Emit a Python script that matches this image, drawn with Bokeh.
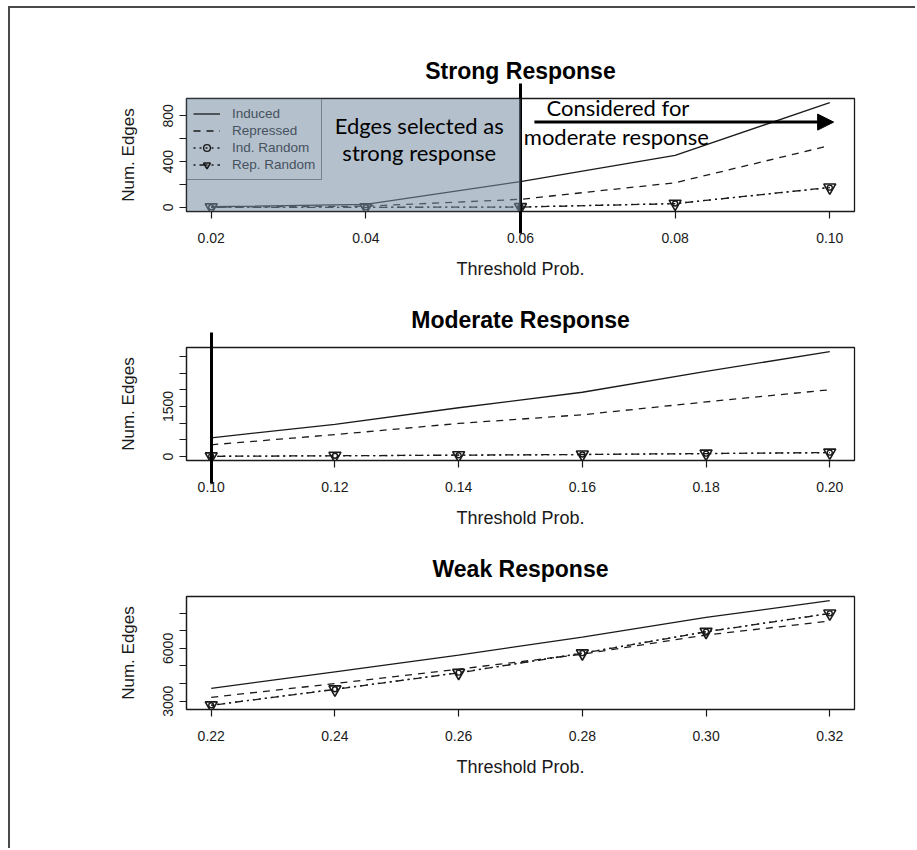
from bokeh.plotting import figure
from bokeh.models import (Range1d, FixedTicker, PrintfTickFormatter, Legend, LegendItem,
                          BoxAnnotation, Arrow, NormalHead, Label, Spacer, LinearAxis)
from bokeh.layouts import column
from bokeh.embed import file_html
from bokeh.resources import INLINE

# ---------------- data ----------------
x_strong = [0.02, 0.04, 0.06, 0.08, 0.10]
induced_strong = [5, 25, 225, 455, 915]
repressed_strong = [2, 10, 70, 215, 540]
ind_random_strong = [0, 0, 3, 33, 172]
rep_random_strong = [0, 0, 2, 32, 174]

x_moderate = [0.10, 0.12, 0.14, 0.16, 0.18, 0.20]
induced_moderate = [560, 960, 1460, 1925, 2550, 3140]
repressed_moderate = [350, 655, 990, 1250, 1635, 2000]
ind_random_moderate = [5, 20, 38, 58, 85, 115]
rep_random_moderate = [5, 22, 40, 60, 88, 118]

x_weak = [0.22, 0.24, 0.26, 0.28, 0.30, 0.32]
induced_weak = [3730, 4670, 5620, 6640, 7760, 8710]
repressed_weak = [3220, 4000, 4820, 5670, 6760, 7550]
ind_random_weak = [2770, 3680, 4620, 5730, 6950, 7990]
rep_random_weak = [2765, 3670, 4610, 5720, 6940, 7980]

yticks_strong = [0, 200, 400, 600, 800]
ylabels_strong = [0, 400, 800]
yticks_moderate = [0, 500, 1000, 1500, 2000, 2500, 3000]
ylabels_moderate = [0, 1500]
yticks_weak = [3000, 4000, 5000, 6000, 7000, 8000]
ylabels_weak = [3000, 6000]

series_names = ["Induced", "Repressed", "Ind. Random", "Rep. Random"]

# thresholds marked with a vertical bar
strong_cut = [0.06]
moderate_cut = [0.10]
weak_cut = []

INK = "#1a1a1a"
FONT = "Liberation Sans"


def make_panel(title, x, ind, rep, indr, repr_, yticks, ylabels, cut,
               cut_in, legend=False):
    xs = max(x) - min(x)
    allv = ind + rep + indr + repr_
    ys = max(allv) - min(allv)
    p = figure(width=890, height=249, output_backend="svg", toolbar_location=None,
               min_border_left=176, min_border_right=46, min_border_top=66,
               min_border_bottom=66,
               x_range=Range1d(min(x) - 0.04 * xs, max(x) + 0.04 * xs),
               y_range=Range1d(min(allv) - 0.04 * ys, max(allv) + 0.04 * ys))
    p.grid.visible = False
    p.outline_line_color = INK
    p.outline_line_width = 1.3
    p.background_fill_color = "white"
    p.border_fill_color = None

    for ax in (p.xaxis[0], p.yaxis[0]):
        ax.axis_line_color = INK
        ax.axis_line_width = 1.2
        ax.major_tick_line_color = INK
        ax.major_tick_line_width = 1.2
        ax.major_tick_out = 7
        ax.major_tick_in = 0
        ax.minor_tick_line_color = None
        ax.major_label_text_font = FONT
        ax.major_label_text_font_size = "14px"
        ax.major_label_text_color = INK
        ax.axis_label_text_font = FONT
        ax.axis_label_text_font_style = "normal"
        ax.axis_label_text_color = INK

    p.xaxis.ticker = FixedTicker(ticks=x)
    p.xaxis.formatter = PrintfTickFormatter(format="%.2f")
    p.xaxis.axis_label = "Threshold Prob."
    p.xaxis.axis_label_text_font_size = "18px"
    p.xaxis.major_label_standoff = 14
    p.xaxis.axis_label_standoff = 13

    p.yaxis.ticker = FixedTicker(ticks=yticks)
    p.yaxis.major_label_overrides = {t: (str(t) if t in ylabels else "") for t in yticks}
    p.yaxis.major_label_orientation = "vertical"
    p.yaxis.axis_label = "Num. Edges"
    p.yaxis.axis_label_text_font_size = "17px"
    p.yaxis.major_label_standoff = 6
    p.yaxis.axis_label_standoff = 23

    # top axis: carries the panel title and the thick threshold bar
    top = LinearAxis(ticker=FixedTicker(ticks=cut), axis_label=title,
                     major_tick_out=15, major_tick_in=cut_in,
                     major_tick_line_width=3, major_tick_line_color="black",
                     axis_line_color=None, minor_tick_line_color=None,
                     major_label_text_font_size="0px", major_label_standoff=0,
                     major_label_overrides={c: "" for c in cut},
                     axis_label_standoff=0 if cut else 15, axis_label_text_font=FONT,
                     axis_label_text_font_size="23px", axis_label_text_font_style="bold",
                     axis_label_text_color="black", level="overlay")
    p.add_layout(top, "above")

    r1 = p.line(x, ind, line_color=INK, line_width=1.3)
    r2 = p.line(x, rep, line_color=INK, line_width=1.3, line_dash="7 6")
    r3 = p.line(x, indr, line_color=INK, line_width=1.3, line_dash="2 4")
    r3m = p.scatter(x, indr, marker="circle", size=5, fill_color=None,
                    line_color=INK, line_width=1.4)
    r4 = p.line(x, repr_, line_color=INK, line_width=1.3, line_dash="2 4 8 4")
    r4m = p.scatter(x, repr_, marker="inverted_triangle", size=12, fill_color=None,
                    line_color=INK, line_width=1.6)

    if legend:
        items = [LegendItem(label=series_names[0], renderers=[r1]),
                 LegendItem(label=series_names[1], renderers=[r2]),
                 LegendItem(label=series_names[2], renderers=[r3, r3m]),
                 LegendItem(label=series_names[3], renderers=[r4, r4m])]
        lg = Legend(items=items, location="top_left", margin=0, padding=6, spacing=0,
                    glyph_height=17, label_height=17, glyph_width=27, label_standoff=12,
                    border_line_color="#3a4450", border_line_width=1.2,
                    background_fill_alpha=0.0,
                    label_text_font=FONT, label_text_font_size="13.5px",
                    label_text_color="#46525e")
        p.add_layout(lg)
    return p


p1 = make_panel("Strong Response", x_strong, induced_strong, repressed_strong,
                ind_random_strong, rep_random_strong, yticks_strong, ylabels_strong,
                strong_cut, 135, legend=True)
p2 = make_panel("Moderate Response", x_moderate, induced_moderate, repressed_moderate,
                ind_random_moderate, rep_random_moderate, yticks_moderate, ylabels_moderate,
                moderate_cut, 136)
p3 = make_panel("Weak Response", x_weak, induced_weak, repressed_weak,
                ind_random_weak, rep_random_weak, yticks_weak, ylabels_weak,
                weak_cut, 0)

# ---------------- annotations (strong panel) ----------------
shade = BoxAnnotation(right=strong_cut[0], fill_color="#778ca2", fill_alpha=0.55,
                      line_color=None, level="overlay")
p1.add_layout(shade)

p1.add_layout(Arrow(end=NormalHead(size=16, fill_color="black", line_color="black"),
                    x_start=0.0618, x_end=0.1005, y_start=745, y_end=745,
                    line_color="black", line_width=3, level="overlay"))

ANN_FONT = "Lato"
for txt, xx, yy in [("Edges selected as", 0.0469, 715), ("strong response", 0.0469, 480),
                    ("Considered for", 0.0726, 876), ("moderate response", 0.0724, 620)]:
    p1.add_layout(Label(x=xx, y=yy, text=txt, text_align="center",
                        text_baseline="middle", text_font=ANN_FONT,
                        text_font_size="22px", text_color="black", level="overlay"))

layout = column(Spacer(height=24, width=905), p1, p2, p3, Spacer(height=69, width=905),
                margin=(6, 0, 0, 8),
                styles={"border-left": "2px solid #4a4a4a",
                        "border-top": "2px solid #4a4a4a"})

open("out.html", "w").write(file_html(layout, INLINE))
